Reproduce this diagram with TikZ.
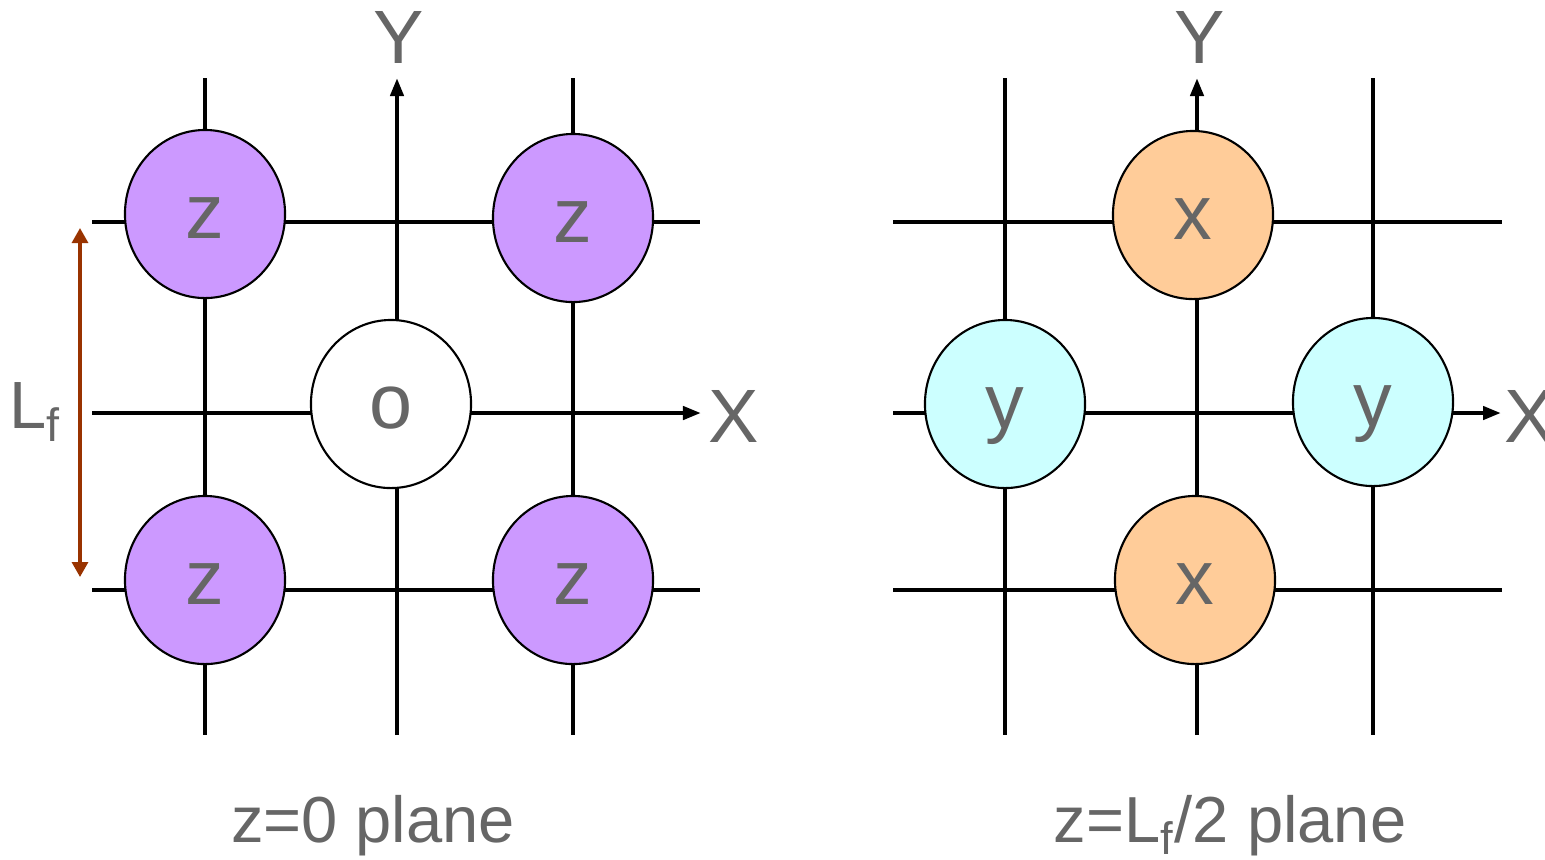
\documentclass[tikz,border=0pt]{standalone}
\usepackage{fontspec}
\setmainfont{Liberation Sans}
\usetikzlibrary{arrows.meta,shapes.geometric}
\definecolor{txtgray}{HTML}{666666}
\definecolor{zfill}{HTML}{CC99FF}
\definecolor{xfill}{HTML}{FFCC99}
\definecolor{yfill}{HTML}{CCFFFF}
\definecolor{lfbrown}{HTML}{993300}

\begin{document}
\begin{tikzpicture}[x=0.01cm, y=-0.01cm,
  grid/.style={line width=1.2pt, draw=black},
  axis/.style={grid, -{Triangle[length=0.18cm, width=0.13cm]}},
  atom/.style={ellipse, draw=black, line width=0.6pt, minimum width=1.6cm, minimum height=1.68cm,
    inner sep=0pt, text=txtgray, font=\fontsize{22}{26}\selectfont, text height=14.2pt, text depth=0pt},
  lbl/.style={text=txtgray, inner sep=0pt, font=\fontsize{21.5}{25}\selectfont},
  plane/.style={lbl, font=\fontsize{18.5}{22}\selectfont}]
  \useasboundingbox (0,0) rectangle (1545,859);

  % z=0 plane
  \foreach \gx in {205,573} \draw[grid] (\gx,78) -- (\gx,735);
  \foreach \gy in {222,590} \draw[grid] (92,\gy) -- (700,\gy);
  \coordinate (ay0) at (397,735); \coordinate (ay1) at (397,78);
  \coordinate (ax0) at (92,413);  \coordinate (ax1) at (701,413);
  \draw[axis] (ay0) -- (ay1);
  \draw[axis] (ax0) -- (ax1);
  \node[lbl, anchor=north] (ylbl) at (399,11) {Y};
  \node[lbl, anchor=west] (xlbl) at (708,416) {X};

  \node[atom, fill=zfill] (z1) at (205,214) {z};
  \node[atom, fill=zfill] (z2) at (573,218) {z};
  \node[atom, fill=zfill] (z3) at (205,580) {z};
  \node[atom, fill=zfill] (z4) at (573,580) {z};
  \node[atom, fill=white] (o) at (391,404) {o};

  \coordinate (lf0) at (80,228); \coordinate (lf1) at (80,577);
  \draw[lfbrown, line width=0.9pt, {Triangle[length=0.15cm, width=0.16cm]}-{Triangle[length=0.15cm, width=0.16cm]}] (lf0) -- (lf1);
  \node[lbl, font=\fontsize{19}{23}\selectfont] (lf) at (35,412) {L\textsubscript{f}};

  \node[plane] (p0) at (373,826) {z=0 plane};

  % z=Lf/2 plane
  \foreach \gx in {1005,1373} \draw[grid] (\gx,78) -- (\gx,735);
  \foreach \gy in {222,590} \draw[grid] (893,\gy) -- (1502,\gy);
  \coordinate (by0) at (1197,735); \coordinate (by1) at (1197,78);
  \coordinate (bx0) at (893,413);  \coordinate (bx1) at (1501,413);
  \draw[axis] (by0) -- (by1);
  \draw[axis] (bx0) -- (bx1);
  \node[lbl, anchor=north] (ylbl2) at (1200,11) {Y};
  \node[lbl, anchor=west] (xlbl2) at (1504,416) {X};

  \node[atom, fill=xfill] (x1) at (1193,215) {x};
  \node[atom, fill=xfill] (x2) at (1195,580) {x};
  \node[atom, fill=yfill] (y1) at (1005,404) {y};
  \node[atom, fill=yfill] (y2) at (1373,402) {y};

  \node[plane] (p1) at (1230,826) {z=L\textsubscript{f}/2 plane};
\end{tikzpicture}
\end{document}
